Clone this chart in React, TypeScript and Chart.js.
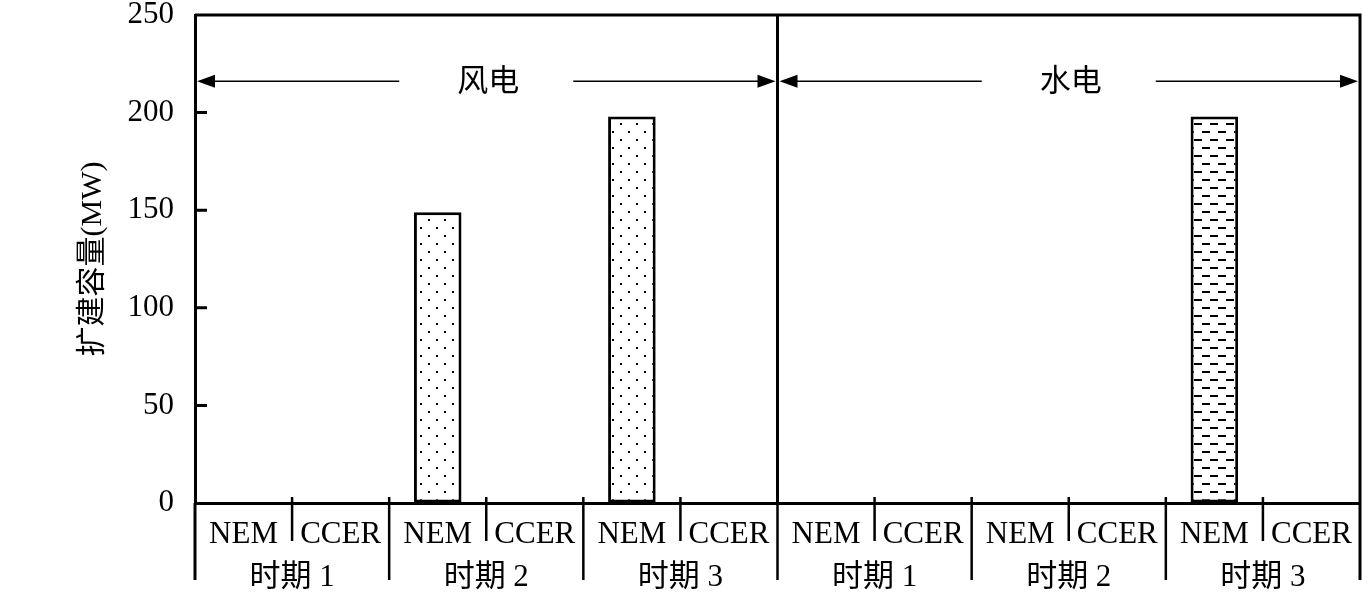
import { useEffect, useRef } from 'react';
import { Chart, registerables } from 'chart.js';
Chart.register(...registerables);

const categories = ['NEM', 'CCER', 'NEM', 'CCER', 'NEM', 'CCER', 'NEM', 'CCER', 'NEM', 'CCER', 'NEM', 'CCER'];
const periodLabels = ['时期 1', '时期 2', '时期 3', '时期 1', '时期 2', '时期 3'];
const sectionLabels = ['风电', '水电'];
const windCapacity = [null, null, 149, null, 198, null, null, null, null, null, null, null];
const hydroCapacity = [null, null, null, null, null, null, null, null, null, null, 198, null];
const yTickValues = [0, 50, 100, 150, 200, 250];
const yTitle = '扩建容量(MW)';
const arrowLevel = 216;

const FONT = '"Liberation Serif", "Times New Roman", "Noto Sans CJK SC", serif';

function makeDotPattern(): CanvasPattern | string {
  const c = document.createElement('canvas');
  c.width = 16;
  c.height = 16;
  const g = c.getContext('2d');
  if (!g) return '#fff';
  g.fillStyle = '#fff';
  g.fillRect(0, 0, 16, 16);
  g.fillStyle = '#000';
  g.fillRect(4, 3, 2, 2);
  g.fillRect(12, 11, 2, 2);
  return g.createPattern(c, 'repeat') || '#fff';
}

function makeDashPattern(): CanvasPattern | string {
  const c = document.createElement('canvas');
  c.width = 16;
  c.height = 16;
  const g = c.getContext('2d');
  if (!g) return '#fff';
  g.fillStyle = '#fff';
  g.fillRect(0, 0, 16, 16);
  g.fillStyle = '#000';
  g.fillRect(2, 3, 8, 2);
  g.fillRect(10, 11, 6, 2);
  g.fillRect(0, 11, 2, 2);
  return g.createPattern(c, 'repeat') || '#fff';
}

const framePlugin = {
  id: 'frame',
  afterDraw(chart: any) {
    const { ctx, chartArea, scales } = chart;
    const x = scales.x;
    const y = scales.y;
    const left = chartArea.left;
    const right = chartArea.right;
    const top = chartArea.top;
    const bottom = chartArea.bottom;
    const n = categories.length;
    const edge = (i: number) => {
      if (i <= 0) return left;
      if (i >= n) return right;
      return (x.getPixelForValue(i - 1) + x.getPixelForValue(i)) / 2;
    };
    const lowEnd = 580;
    ctx.save();
    ctx.strokeStyle = '#000';
    ctx.lineCap = 'butt';

    // frame
    ctx.lineWidth = 3;
    ctx.beginPath();
    ctx.moveTo(left, top);
    ctx.lineTo(right, top);
    ctx.moveTo(right, top - 1.5);
    ctx.lineTo(right, lowEnd);
    ctx.moveTo(left, bottom);
    ctx.lineTo(left, lowEnd);
    const mid = edge(n / 2);
    ctx.moveTo(mid, top);
    ctx.lineTo(mid, bottom);
    ctx.stroke();

    // inward y ticks
    ctx.lineWidth = 3;
    ctx.beginPath();
    yTickValues.forEach((v) => {
      if (v === 250 || v === 0) return;
      const py = y.getPixelForValue(v);
      ctx.moveTo(left, py);
      ctx.lineTo(left + 12, py);
    });
    ctx.stroke();

    // category separators
    ctx.lineWidth = 2.5;
    ctx.beginPath();
    for (let i = 1; i < n; i++) {
      const px = edge(i);
      ctx.moveTo(px, bottom - 6);
      ctx.lineTo(px, i % 2 === 0 ? lowEnd : 541);
    }
    ctx.stroke();

    // category labels
    ctx.fillStyle = '#000';
    ctx.textAlign = 'center';
    ctx.textBaseline = 'middle';
    ctx.font = `31px ${FONT}`;
    categories.forEach((c, i) => {
      ctx.fillText(c, x.getPixelForValue(i), 535);
    });
    periodLabels.forEach((p, k) => {
      const cx = (edge(2 * k) + edge(2 * k + 2)) / 2;
      ctx.fillText(p, cx, 578);
    });

    // section arrows
    const ay = y.getPixelForValue(arrowLevel);
    sectionLabels.forEach((s, k) => {
      const a = edge(k * (n / 2)) + 2;
      const b = edge((k + 1) * (n / 2)) - 2;
      const c = (a + b) / 2;
      const gap = 87;
      ctx.lineWidth = 1.5;
      ctx.beginPath();
      ctx.moveTo(a + 10, ay);
      ctx.lineTo(c - gap, ay);
      ctx.moveTo(c + gap, ay);
      ctx.lineTo(b - 10, ay);
      ctx.stroke();
      ctx.beginPath();
      ctx.moveTo(a, ay);
      ctx.lineTo(a + 18, ay - 6.5);
      ctx.lineTo(a + 18, ay + 6.5);
      ctx.closePath();
      ctx.moveTo(b, ay);
      ctx.lineTo(b - 18, ay - 6.5);
      ctx.lineTo(b - 18, ay + 6.5);
      ctx.closePath();
      ctx.fill();
      ctx.fillText(s, c + 2, ay + 1);
    });
    ctx.restore();
  },
};

export default function App() {
  const ref = useRef<HTMLCanvasElement | null>(null);
  useEffect(() => {
    if (!ref.current) return;
    const chart = new Chart(ref.current, {
      type: 'bar',
      data: {
        labels: categories,
        datasets: [
          {
            label: '风电',
            data: windCapacity,
            backgroundColor: makeDotPattern() as any,
            borderColor: '#000',
            borderWidth: 3,
            borderSkipped: false,
          },
          {
            label: '水电',
            data: hydroCapacity,
            backgroundColor: makeDashPattern() as any,
            borderColor: '#000',
            borderWidth: 3,
            borderSkipped: false,
          },
        ],
      },
      options: {
        animation: false,
        responsive: true,
        maintainAspectRatio: false,
        grouped: false,
        categoryPercentage: 1,
        barPercentage: 0.49,
        layout: { padding: { top: 15, right: 2, left: 0, bottom: 0 } },
        plugins: { legend: { display: false }, tooltip: { enabled: false } },
        scales: {
          x: {
            grid: { display: false },
            border: { display: true, color: '#000', width: 3 },
            ticks: { display: false },
            afterFit: (s: any) => {
              s.height = 93;
              s.paddingLeft = 0;
              s.paddingRight = 0;
            },
          },
          y: {
            min: 0,
            max: 250,
            afterBuildTicks: (s: any) => {
              s.ticks = yTickValues.map((v) => ({ value: v }));
            },
            grid: { display: true, drawOnChartArea: false, drawTicks: false },
            border: { display: true, color: '#000', width: 3 },
            ticks: {
              color: '#000',
              padding: 21,
              font: { family: FONT, size: 31, lineHeight: 1 },
            },
            title: {
              display: true,
              text: yTitle,
              color: '#000',
              font: { family: FONT, size: 30, lineHeight: 1.2 },
              padding: { top: 75, bottom: 0 },
            },
            afterFit: (s: any) => {
              s.width = 195;
              s.paddingTop = 0;
              s.paddingBottom = 0;
            },
          },
        },
      } as any,
      plugins: [framePlugin],
    });
    return () => chart.destroy();
  }, []);
  return (
    <div style={{ position: 'absolute', left: 0, top: 0, width: 1362, height: 596, background: '#fff' }}>
      <canvas ref={ref} />
    </div>
  );
}
